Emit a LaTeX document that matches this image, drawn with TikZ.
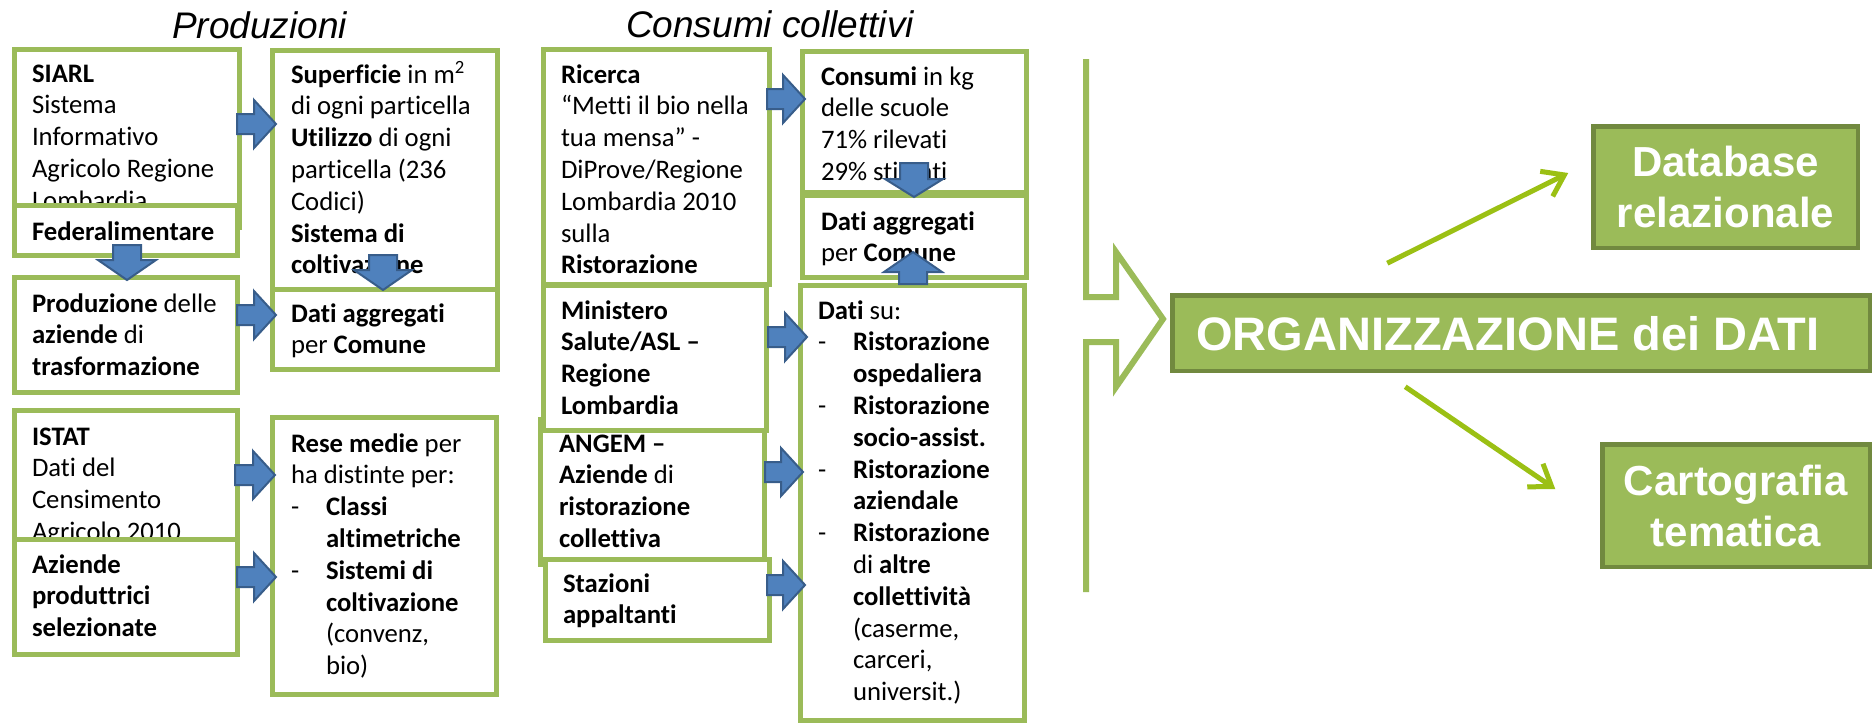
\documentclass[tikz,border=0pt]{standalone}
\usepackage{fontspec}
\setmainfont{Carlito}[Ligatures=NoCommon]
\newfontfamily\arialf{Liberation Sans}
\usetikzlibrary{calc,arrows.meta}
\definecolor{boxgreen}{HTML}{9BBB59}
\definecolor{darkgreen}{HTML}{71893F}
\definecolor{linegreen}{RGB}{155,192,20}
\definecolor{bluefill}{HTML}{4F81BD}
\definecolor{blueline}{HTML}{385D8A}
\tikzset{
 gbox/.style={rectangle, draw=boxgreen, line width=5pt, fill=white, anchor=north west, inner sep=0pt, outer sep=0pt},
 txt/.style={anchor=north west, inner sep=0pt, outer sep=0pt, align=left, yshift=22.26pt, font=\fontsize{26.7}{31.8}\selectfont},
 ttl/.style={anchor=base, inner sep=0pt, font=\arialf\itshape\fontsize{37}{44}\selectfont},
 bigbox/.style={rectangle, fill=boxgreen, draw=darkgreen, line width=4.5pt, anchor=north west, inner sep=0pt, outer sep=0pt, text=white, align=center, font=\arialf\bfseries\fontsize{42}{51}\selectfont},
 orgtxt/.style={inner sep=0pt, text=white, font=\arialf\bfseries\fontsize{47}{56}\selectfont},
 barrow/.style={fill=bluefill, draw=blueline, line width=2pt, line join=miter},
 garrow/.style={draw=linegreen, line width=5pt, -{Straight Barb[length=20pt,width=28pt]}},
 bracket/.style={draw=boxgreen, line width=6pt, line join=miter}
}
\newcommand\gb[5]{\node[gbox, minimum width={#4-#2-5}, minimum height={#5-#3-5}] (#1) at ({#2+2.5},{#3+2.5}) {};}
\newcommand\itm{\makebox[35pt][l]{-}}
\newcommand\ind{\hspace*{35pt}}
\newcommand\barr[5]{%
  \coordinate (bP) at #1;
  \coordinate (bQ) at #2;
  \coordinate (bH) at ($(bQ)!#5!(bP)$);
  \draw[barrow] ($(bP)!#3!90:(bQ)$) -- ($(bH)!#3!90:(bQ)$) -- ($(bH)!#4!90:(bQ)$) -- (bQ) -- ($(bH)!#4!-90:(bQ)$) -- ($(bH)!#3!-90:(bQ)$) -- ($(bP)!#3!-90:(bQ)$) -- cycle;}
\newcommand\harr[5]{\barr{($(#1.east|-0,#3)+(#4,0)$)}{($(#2.west|-0,#3)+(#5,0)$)}{10pt}{24pt}{22pt}}
\newcommand\varr[6]{\barr{($(#1-|#3,0)+(0,#4)$)}{($(#2-|#3,0)+(0,#5)$)}{14pt}{29pt}{#6}}
\begin{document}
\begin{tikzpicture}[x=1pt,y=-1pt]
\useasboundingbox (0,0) rectangle (1872,724);
\fill[white] (0,0) rectangle (1872,724);

% titles
\node[ttl] (tprod) at (259.5,38) {Produzioni};
\node[ttl] (tcons) at (770,37) {Consumi collettivi};

% Produzioni, left column
\gb{siarl}{12}{47}{242}{230}
\node[txt] (siarl-t) at (32,82) {\strut\textbf{SIARL}\\Sistema\\Informativo\\Agricolo Regione\\Lombardia};
\gb{feder}{12}{203}{240}{258}
\node[txt] (feder-t) at (32,240) {\strut\textbf{Federalimentare}};
\gb{produz}{12}{275}{240}{395}
\node[txt] (produz-t) at (32,312) {\strut\textbf{Produzione} delle\\\textbf{aziende} di\\\textbf{trasformazione}};
\gb{istat}{12}{408}{240}{545}
\node[txt] (istat-t) at (32,445) {\strut\textbf{ISTAT}\\Dati del\\Censimento\\Agricolo 2010};
\gb{aziende}{12}{537}{240}{657}
\node[txt] (aziende-t) at (32,573) {\strut\textbf{Aziende}\\\textbf{produttrici}\\\textbf{selezionate}};

% Produzioni, right column
\gb{superf}{270}{48}{500}{292}
\node[txt] (superf-t) at (291,83) {\strut\textbf{Superficie} in m\textsuperscript{2}\\di ogni particella\\\textbf{Utilizzo} di ogni\\particella (236\\Codici)\\\textbf{Sistema di}\\\textbf{coltivazione}};
\gb{datiagg}{270}{287}{500}{372}
\node[txt] (datiagg-t) at (291,322) {\strut\textbf{Dati aggregati}\\per \textbf{Comune}};
\gb{rese}{270}{415}{499}{697}
\node[txt] (rese-t) at (291,452) {\strut\textbf{Rese medie} per\\ha distinte per:\\\itm\textbf{Classi}\\\ind\textbf{altimetriche}\\\itm\textbf{Sistemi di}\\\ind\textbf{coltivazione}\\\ind(convenz,\\\ind bio)};

% Consumi collettivi, left column
\gb{ricerca}{541}{47}{772}{287}
\node[txt] (ricerca-t) at (561,83) {\strut\textbf{Ricerca}\\“Metti il bio nella\\tua mensa” -\\DiProve/Regione\\Lombardia 2010\\sulla\\\textbf{Ristorazione}};
\gb{angem}{538}{417}{767}{567}
\node[txt] (angem-t) at (559,452) {\strut\textbf{ANGEM –}\\\textbf{Aziende} di\\\textbf{ristorazione}\\\textbf{collettiva}};
\gb{minist}{541}{283}{769}{433}
\node[txt] (minist-t) at (561,319) {\strut\textbf{Ministero}\\\textbf{Salute/ASL –}\\\textbf{Regione}\\\textbf{Lombardia}};
\gb{staz}{543}{557}{772}{643}
\node[txt] (staz-t) at (563,592) {\strut\textbf{Stazioni}\\\textbf{appaltanti}};

% Consumi collettivi, right column
\gb{consumi}{800}{49}{1029}{195}
\node[txt] (consumi-t) at (821,85) {\strut\textbf{Consumi} in kg\\delle scuole\\71\% rilevati\\29\% stimati};
\gb{datiagg2}{800}{193}{1029}{280}
\node[txt] (datiagg2-t) at (821,230) {\strut\textbf{Dati aggregati}\\per \textbf{Comune}};
\gb{datisu}{798}{283}{1027}{723}
\node[txt] (datisu-t) at (818,319) {\strut\textbf{Dati} su:\\\itm\textbf{Ristorazione}\\\ind\textbf{ospedaliera}\\\itm\textbf{Ristorazione}\\\ind\textbf{socio-assist.}\\\itm\textbf{Ristorazione}\\\ind\textbf{aziendale}\\\itm\textbf{Ristorazione}\\\ind di \textbf{altre}\\\ind\textbf{collettività}\\\ind(caserme,\\\ind carceri,\\\ind universit.)};

% bracket arrow
\draw[bracket] (1086,59) -- (1086,297) -- (1116,297) -- (1116,252) -- (1163,319) -- (1116,387) -- (1116,342) -- (1086,342) -- (1086,592);

% result boxes
\node[bigbox, minimum width={1872-1170-4.5}, minimum height={373-293-4.5}] (org) at (1172.25,295.25) {};
\node[orgtxt] (org-t) at (1508,334) {ORGANIZZAZIONE dei DATI};
\node[bigbox, minimum width={1860-1591-4.5}, minimum height={250-124-4.5}] (db) at (1593.25,126.25) {Database\\relazionale};
\node[bigbox, minimum width={1872-1600-4.5}, minimum height={569-442-4.5}] (carto) at (1602.25,444.25) {Cartografia\\tematica};

\draw[garrow] ($(org.north west)+(215,-32)$) -- ($(db.west)+(-25,-14)$);
\draw[garrow] ($(org.south west)+(233,16)$) -- ($(carto.west)+(-47,-16.5)$);

% blue block arrows
\harr{siarl}{superf}{124}{-2.5}{3.5}
\harr{produz}{datiagg}{315}{-0.5}{3.5}
\harr{istat}{rese}{475}{-2.5}{2.5}
\harr{aziende}{rese}{577}{-0.5}{3.5}
\harr{ricerca}{consumi}{99}{-2.5}{2.5}
\harr{minist}{datisu}{337}{1.5}{6.5}
\harr{angem}{datisu}{472}{0.5}{2.5}
\harr{staz}{datisu}{585}{-2.5}{4.5}
\varr{feder.south}{produz.north}{127}{-10.5}{2.5}{20pt}
\varr{superf.south}{datiagg.north}{383}{-34.5}{0.5}{20pt}
\varr{consumi.south}{datiagg2.north}{914}{-29.5}{1.5}{18pt}
\varr{datisu.north}{datiagg2.south}{913}{-1.5}{-25.5}{20pt}
\end{tikzpicture}
\end{document}
